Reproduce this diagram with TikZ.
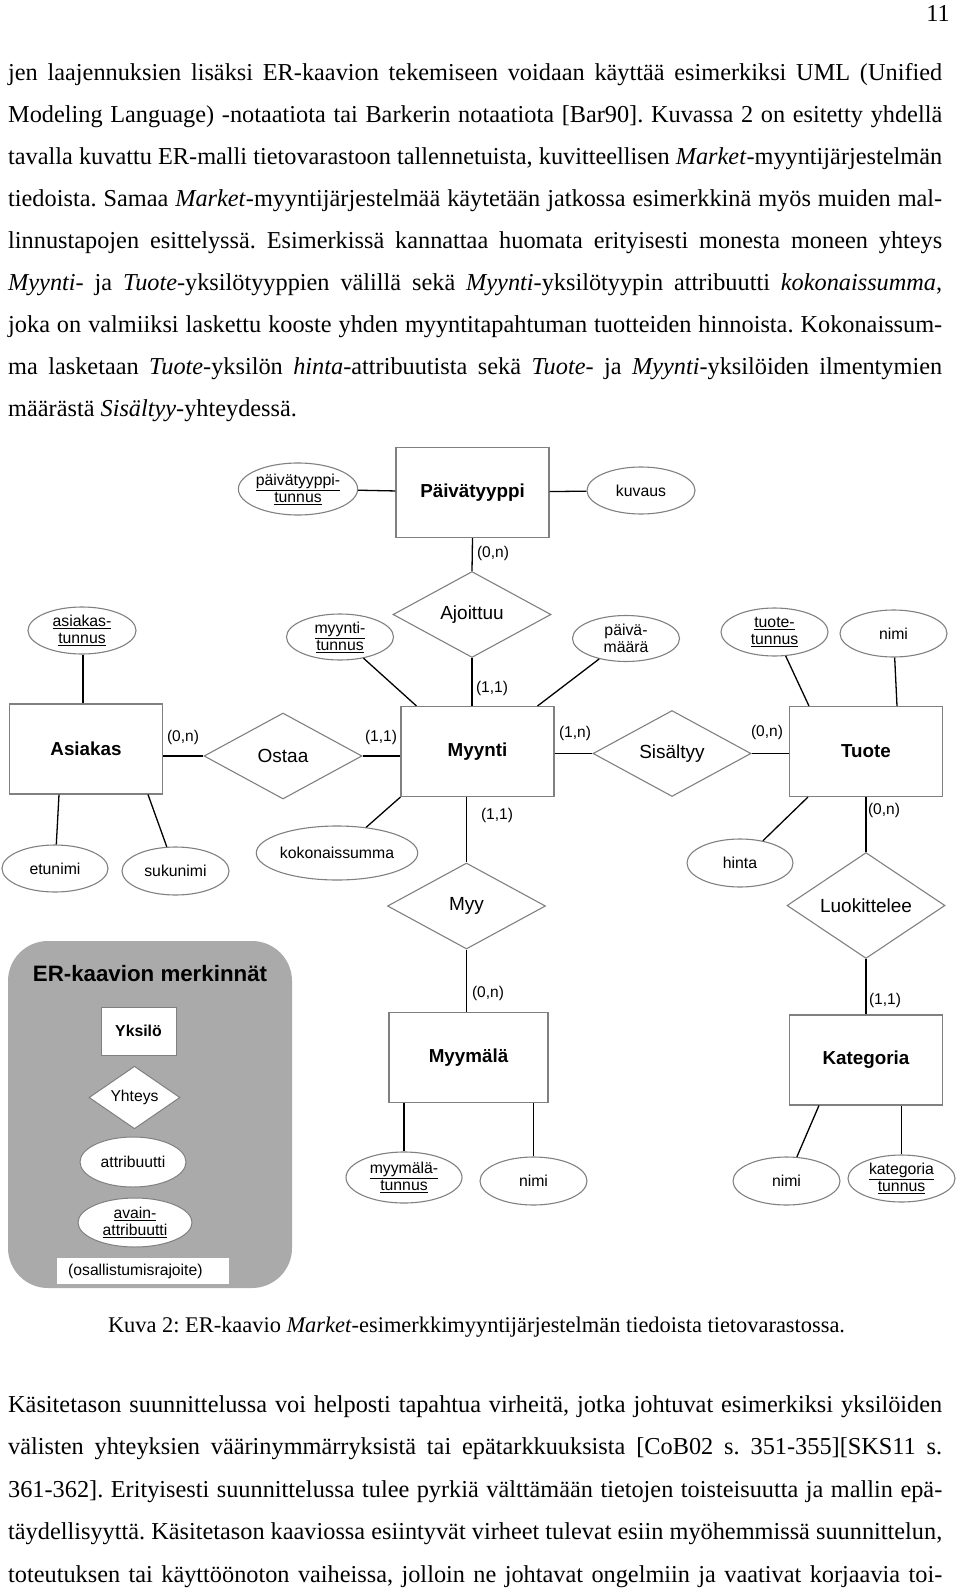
\documentclass[tikz,border=0pt]{standalone}
\usepackage{fontspec}
\setmainfont{Liberation Serif}
\newfontfamily\arialf{Liberation Sans}
\usetikzlibrary{shapes.geometric}
\definecolor{gmid}{RGB}{128,128,128}
\definecolor{legendgray}{RGB}{170,170,170}
\frenchspacing
\begin{document}
\begin{tikzpicture}[x=1pt,y=-1pt,
 ent/.style={draw=gmid,line width=1.1pt,rectangle,minimum width=153pt,minimum height=90pt,inner sep=0pt,font=\arialf\bfseries\fontsize{18.8}{21}\selectfont},
 rel/.style={draw=gmid,line width=1.1pt,diamond,minimum width=158pt,minimum height=86pt,inner sep=0pt,font=\arialf\fontsize{19}{21}\selectfont},
 att/.style={draw=gmid,line width=1.1pt,ellipse,minimum width=107pt,minimum height=47pt,inner sep=0pt,align=center,font=\arialf\fontsize{15.8}{17}\selectfont},
 card/.style={inner sep=0pt,font=\arialf\fontsize{15.5}{17}\selectfont},
 con/.style={draw=black,line width=1.3pt},
 jl/.style={anchor=base west,inner sep=0pt,font=\fontsize{24.3}{28}\selectfont},
 leg/.style={font=\arialf\fontsize{15.7}{17}\selectfont}]
\useasboundingbox (0,0) rectangle (960,1589);
% page number
\node[anchor=base east,inner sep=0pt,font=\fontsize{24.3}{28}\selectfont] (pnum) at (950,22) {11};
% top paragraph
\node[jl] (t1) at (8,81) {\makebox[934pt][s]{jen laajennuksien lisäksi ER-kaavion tekemiseen voidaan käyttää esimerkiksi UML (Unified}};
\node[jl] (t2) at (8,122.9) {\makebox[934pt][s]{Modeling Language) -notaatiota tai Barkerin notaatiota [Bar90]. Kuvassa 2 on esitetty yhdellä}};
\node[jl] (t3) at (8,164.8) {\makebox[934pt][s]{tavalla kuvattu ER-malli tietovarastoon tallennetuista, kuvitteellisen \textit{Market}-myyntijärjestelmän}};
\node[jl] (t4) at (8,206.7) {\makebox[934pt][s]{tiedoista. Samaa \textit{Market}-myyntijärjestelmää käytetään jatkossa esimerkkinä myös muiden mal-}};
\node[jl] (t5) at (8,248.6) {\makebox[934pt][s]{linnustapojen esittelyssä. Esimerkissä kannattaa huomata erityisesti monesta moneen yhteys}};
\node[jl] (t6) at (8,290.5) {\makebox[934pt][s]{\textit{Myynti}- ja \textit{Tuote}-yksilötyyppien välillä sekä \textit{Myynti}-yksilötyypin attribuutti \textit{kokonaissumma},}};
\node[jl] (t7) at (8,332.4) {\makebox[934pt][s]{joka on valmiiksi laskettu kooste yhden myyntitapahtuman tuotteiden hinnoista. Kokonaissum-}};
\node[jl] (t8) at (8,374.3) {\makebox[934pt][s]{ma lasketaan \textit{Tuote}-yksilön \textit{hinta}-attribuutista sekä \textit{Tuote}- ja \textit{Myynti}-yksilöiden ilmentymien}};
\node[jl] (t9) at (8,416.2) {määrästä \textit{Sisältyy}-yhteydessä.};
% legend
\fill[legendgray,rounded corners=40pt] (8,941) rectangle (292,1288);
\node[font=\arialf\bfseries\fontsize{22.3}{25}\selectfont,inner sep=0pt] (legtitle) at (150,974) {ER-kaavion merkinnät};
\node[draw=gmid,line width=1pt,fill=white,rectangle,minimum width=75pt,minimum height=48pt,inner sep=0pt,font=\arialf\bfseries\fontsize{15.8}{17}\selectfont] (legent) at (138.5,1031) {Yksilö};
\node[draw=gmid,line width=1pt,fill=white,diamond,minimum width=91pt,minimum height=59pt,inner sep=0pt,leg] (legrel) at (134.5,1097.5) {Yhteys};
\node[draw=gmid,line width=1pt,fill=white,ellipse,minimum width=106pt,minimum height=50pt,inner sep=0pt,leg] (legatt) at (133,1162) {attribuutti};
\node[draw=gmid,line width=1pt,fill=white,ellipse,minimum width=114pt,minimum height=49pt,inner sep=0pt,leg,align=center] (legkey) at (135,1222.5) {\underline{avain-}\\\underline{attribuutti}};
\fill[white] (57,1258) rectangle (229,1284);
\node[anchor=west,inner sep=0pt,leg] (legcard) at (68,1271) {(osallistumisrajoite)};
% entities
\node[ent] (paivatyyppi) at (472.5,492.5) {Päivätyyppi};
\node[ent] (asiakas) at (86,749) {Asiakas};
\node[ent] (myynti) at (477.5,751.5) {Myynti};
\node[ent] (tuote) at (866,751.5) {Tuote};
\node[ent,minimum width=159pt] (myymala) at (468.5,1057.5) {Myymälä};
\node[ent] (kategoria) at (866,1060) {Kategoria};
% relationships
\node[rel] (ajoittuu) at (472,614.5) {Ajoittuu};
\node[rel] (ostaa) at (283,756) {Ostaa};
\node[rel] (sisaltyy) at (672,753.5) {Sisältyy};
\node[rel] (myy) at (466.5,906) {Myy};
\node[rel] (luokittelee) at (866,905.5) {Luokittelee};
% attributes
\node[att,minimum width=118pt,minimum height=52pt] (pvtunnus) at (298,489) {\underline{päivätyyppi-}\\\underline{tunnus}};
\node[att,minimum width=108pt] (kuvaus) at (641,490.5) {kuvaus};
\node[att,minimum width=108pt] (asiakastunnus) at (82,630.5) {\underline{asiakas-}\\\underline{tunnus}};
\node[att,minimum height=46pt] (myyntitunnus) at (340,637) {\underline{myynti-}\\\underline{tunnus}};
\node[att,minimum height=46pt] (paivamaara) at (626,638.5) {päivä-\\määrä};
\node[att,minimum height=48pt] (tuotetunnus) at (774.5,632) {\underline{tuote-}\\\underline{tunnus}};
\node[att] (tuotenimi) at (893.5,633.5) {nimi};
\node[att,minimum width=106pt] (etunimi) at (55,868.5) {etunimi};
\node[att,minimum height=48pt] (sukunimi) at (175.5,871) {sukunimi};
\node[att,minimum width=126pt,minimum height=54pt] (kokonaissumma) at (337,853) {kokonaissumma};
\node[att,minimum width=106pt,minimum height=48pt] (hinta) at (740,863) {hinta};
\node[att,minimum width=116pt,minimum height=51pt] (myymalatunnus) at (404,1177.5) {\underline{myymälä-}\\\underline{tunnus}};
\node[att,minimum height=48pt] (myymalanimi) at (533.5,1181) {nimi};
\node[att,minimum height=48pt] (katnimi) at (786.5,1181) {nimi};
\node[att] (kattunnus) at (901.5,1178.5) {\underline{kategoria}\\\underline{tunnus}};
% connectors
\draw[con] (pvtunnus) -- (paivatyyppi);
\draw[con] (paivatyyppi) -- (kuvaus);
\draw[con] (paivatyyppi.south) -- (ajoittuu.north);
\draw[con] (ajoittuu.south) -- (ajoittuu.south |- myynti.north);
\draw[con] (myyntitunnus) -- ([xshift=16pt]myynti.north west);
\draw[con] (paivamaara) -- ([xshift=-17pt]myynti.north east);
\draw[con] ([xshift=1pt]asiakastunnus.south) -- ([xshift=1pt]asiakastunnus.south |- asiakas.north);
\draw[con] (ostaa.west -| asiakas.east) -- (ostaa.west);
\draw[con] (ostaa.east) -- (ostaa.east -| myynti.west);
\draw[con] (sisaltyy.west -| myynti.east) -- (sisaltyy.west);
\draw[con] (sisaltyy.east) -- (sisaltyy.east -| tuote.west);
\draw[con] ([xshift=-27pt]asiakas.south) -- (etunimi);
\draw[con] ([xshift=62pt]asiakas.south) -- (sukunimi);
\draw[con] (myynti.south west) -- (kokonaissumma);
\draw[con] (myy.north |- myynti.south) -- (myy.north);
\draw[con] (myy.south) -- (myy.south |- myymala.north);
\draw[con] (tuotetunnus) -- ([xshift=20pt]tuote.north west);
\draw[con] (tuotenimi) -- ([xshift=31pt]tuote.north);
\draw[con] ([xshift=19pt]tuote.south west) -- (hinta);
\draw[con] (tuote.south) -- (luokittelee.north);
\draw[con] (luokittelee.south) -- (kategoria.north);
\draw[con] ([xshift=30pt]kategoria.south west) -- (katnimi);
\draw[con] (kattunnus.north |- kategoria.south) -- (kattunnus.north);
\draw[con] (myymalatunnus.north |- myymala.south) -- (myymalatunnus.north);
\draw[con] (myymalanimi.north |- myymala.south) -- (myymalanimi.north);
% cardinalities
\node[card] (c1) at (493,553) {(0,n)};
\node[card] (c2) at (492,688) {(1,1)};
\node[card] (c3) at (183,737) {(0,n)};
\node[card] (c4) at (381,737) {(1,1)};
\node[card] (c5) at (575,733) {(1,n)};
\node[card] (c6) at (767,732) {(0,n)};
\node[card] (c7) at (497,815) {(1,1)};
\node[card] (c8) at (884,810) {(0,n)};
\node[card] (c9) at (488,993) {(0,n)};
\node[card] (c10) at (885,1000) {(1,1)};
% caption
\node[anchor=base,inner sep=0pt,font=\fontsize{22.4}{26}\selectfont] (caption) at (476.5,1332) {Kuva 2: ER-kaavio \textit{Market}-esimerkkimyyntijärjestelmän tiedoista tietovarastossa.};
% bottom paragraph
\node[jl] (b1) at (8,1412) {\makebox[934pt][s]{Käsitetason suunnittelussa voi helposti tapahtua virheitä, jotka johtuvat esimerkiksi yksilöiden}};
\node[jl] (b2) at (8,1454.5) {\makebox[934pt][s]{välisten yhteyksien väärinymmärryksistä tai epätarkkuuksista [CoB02 s. 351-355][SKS11 s.}};
\node[jl] (b3) at (8,1497) {\makebox[934pt][s]{361-362]. Erityisesti suunnittelussa tulee pyrkiä välttämään tietojen toisteisuutta ja mallin epä-}};
\node[jl] (b4) at (8,1539.5) {\makebox[934pt][s]{täydellisyyttä. Käsitetason kaaviossa esiintyvät virheet tulevat esiin myöhemmissä suunnittelun,}};
\node[jl] (b5) at (8,1582) {\makebox[934pt][s]{toteutuksen tai käyttöönoton vaiheissa, jolloin ne johtavat ongelmiin ja vaativat korjaavia toi-}};
\end{tikzpicture}
\end{document}
